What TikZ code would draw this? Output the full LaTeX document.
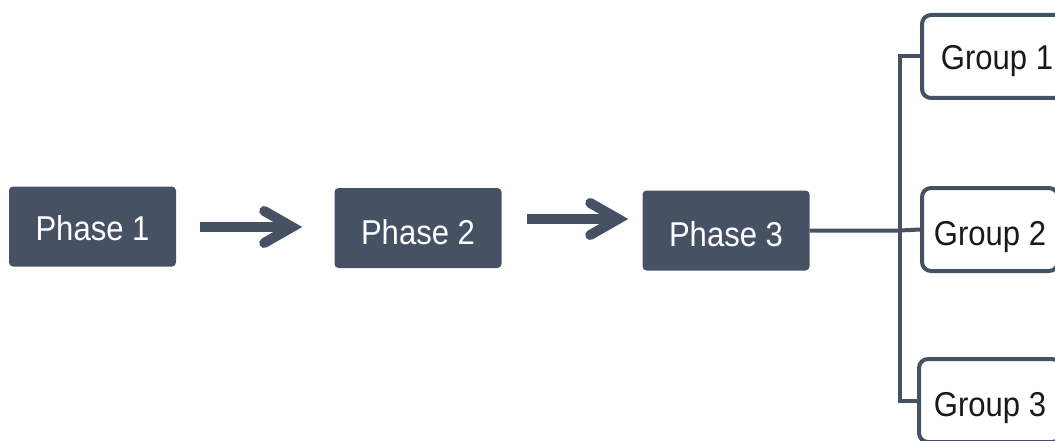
\documentclass[tikz,border=0pt]{standalone}
\usepackage{fontspec}
\setmainfont[FakeStretch=0.9]{Liberation Sans}
\usetikzlibrary{arrows.meta}
\definecolor{slate}{HTML}{465263}
\tikzset{
  label font/.style={font=\fontsize{34.5}{40}\selectfont, text depth=0pt},
  phase/.style={label font, fill=slate, text=white, rounded corners=4pt, minimum width=167pt,
    minimum height=80pt, inner sep=0pt},
  group/.style={label font, draw=slate, line width=4pt, fill=white, text=black!90, rounded corners=9pt,
    minimum height=83pt, inner sep=0pt},
  flow/.style={draw=slate, line width=10pt,
    -{Straight Barb[length=28pt, width=32pt, line width=10pt, line cap=round, line join=miter]}},
  link/.style={draw=slate, line width=4pt}
}
\begin{document}
\begin{tikzpicture}[x=1pt, y=-1pt]
  \useasboundingbox (0,0) rectangle (1055,441);
  \clip (0,0) rectangle (1055,441);
  % process phases
  \node[phase, text height=28.7pt] (p1) at (92.5,226.5) {Phase 1};
  \node[phase, text height=33.7pt] (p2) at (418,228) {Phase 2};
  \node[phase, text height=32.7pt] (p3) at (726,230.5) {Phase 3};
  % branch targets
  \node[group, minimum width=150pt, text height=26.7pt] (g1) at (997,56.5) {Group 1};
  \node[group, minimum width=136pt, text height=32.7pt] (g2) at (990,229.5) {Group 2};
  \node[group, minimum width=142pt, text height=32.7pt] (g3) at (990,400.5) {Group 3};
  % flow arrows between phases
  \draw[flow] ([xshift=24pt,yshift=-0.5pt]p1.east) -- ([xshift=-32pt,yshift=1pt]p2.west);
  \draw[flow] ([xshift=25pt,yshift=9pt]p2.east) -- ([xshift=-14pt,yshift=11.5pt]p3.west);
  % branching connector
  \coordinate (j) at ([xshift=-20pt]g2.west);
  \draw[link] (p3.east) -- (p3.east -| j) -- (g2.west);
  \draw[link] (g1.west) -- (g1.west -| j) -- (g3.west -| j) -- (g3.west);
\end{tikzpicture}
\end{document}
